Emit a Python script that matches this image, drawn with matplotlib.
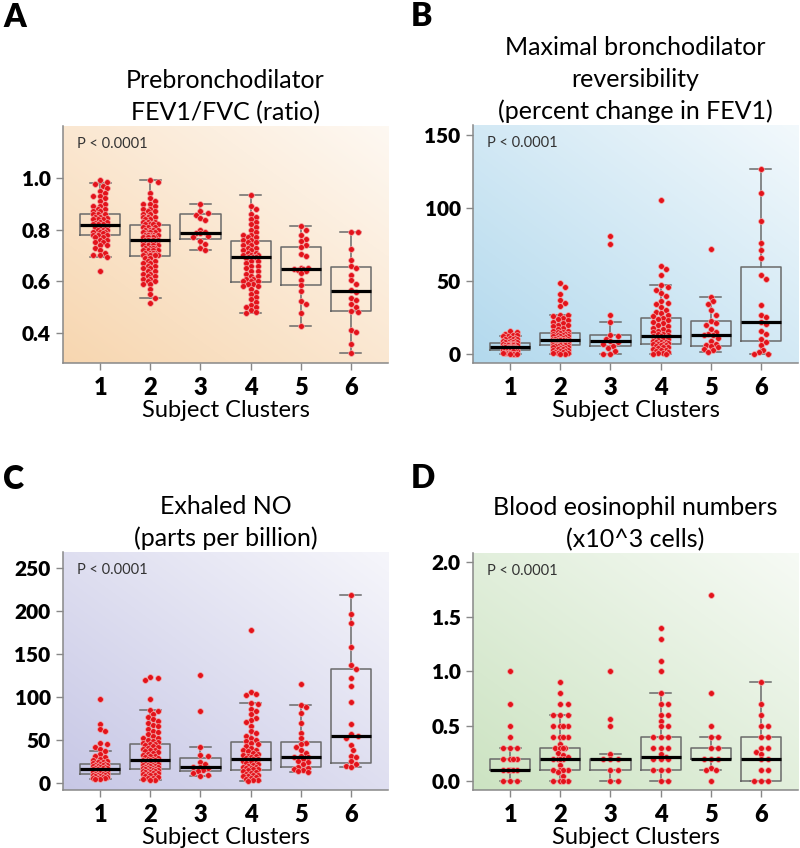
import numpy as np
import matplotlib
matplotlib.use('Agg')
import matplotlib.pyplot as plt

plt.rcParams['font.family'] = ['Lato', 'DejaVu Sans']

clusters = [1, 2, 3, 4, 5, 6]

# ---- A: prebronchodilator FEV1/FVC ----
fev_c1 = [0.99, 0.985, 0.975, 0.97, 0.96, 0.95, 0.94, 0.93, 0.93, 0.92, 0.91, 0.90, 0.89, 0.89,
          0.88, 0.88, 0.87, 0.87, 0.86, 0.86, 0.86, 0.85, 0.85, 0.845, 0.84, 0.84, 0.84, 0.83,
          0.83, 0.825, 0.82, 0.82, 0.82, 0.815, 0.81, 0.81, 0.81, 0.80, 0.80, 0.80, 0.79, 0.79,
          0.79, 0.785, 0.78, 0.78, 0.78, 0.77, 0.77, 0.76, 0.76, 0.75, 0.75, 0.74, 0.74, 0.73,
          0.72, 0.71, 0.70, 0.70, 0.695, 0.64]
fev_c2 = [0.99, 0.985, 0.94, 0.92, 0.91, 0.90, 0.90, 0.89, 0.88, 0.88, 0.87, 0.87, 0.86, 0.86,
          0.85, 0.85, 0.85, 0.84, 0.84, 0.83, 0.83, 0.83, 0.82, 0.82, 0.82, 0.82,
          0.81, 0.81, 0.81, 0.80, 0.80, 0.80, 0.80, 0.79, 0.79, 0.79, 0.79, 0.78, 0.78, 0.78,
          0.78, 0.78, 0.77, 0.77, 0.77, 0.77, 0.77, 0.76, 0.76, 0.76, 0.76, 0.76,
          0.75, 0.75, 0.75, 0.75, 0.74, 0.74, 0.74, 0.74, 0.73, 0.73, 0.73, 0.73, 0.72, 0.72,
          0.72, 0.72, 0.71, 0.71, 0.71, 0.71, 0.70, 0.70, 0.70, 0.70, 0.70, 0.70,
          0.69, 0.69, 0.68, 0.68, 0.67, 0.67, 0.66, 0.66, 0.65, 0.65, 0.64, 0.64, 0.63, 0.63,
          0.62, 0.62, 0.61, 0.61, 0.60, 0.60, 0.59, 0.59, 0.57, 0.55, 0.537, 0.515]
fev_c3 = [0.899, 0.87, 0.865, 0.855, 0.845, 0.835, 0.80, 0.79, 0.788, 0.785, 0.775, 0.77,
          0.755, 0.745, 0.73, 0.72]
fev_c4 = [0.933, 0.89, 0.88, 0.86, 0.85, 0.84, 0.83, 0.82, 0.81, 0.80, 0.79, 0.78, 0.78, 0.77,
          0.77, 0.76, 0.76, 0.75, 0.75, 0.74, 0.74, 0.73, 0.73, 0.72, 0.72, 0.71, 0.71, 0.70,
          0.70, 0.70, 0.695, 0.695, 0.694, 0.69, 0.68, 0.68, 0.67, 0.66, 0.66, 0.65, 0.64, 0.64,
          0.63, 0.62, 0.62, 0.61, 0.61, 0.60, 0.60, 0.60, 0.59, 0.59, 0.58, 0.58, 0.57, 0.56,
          0.55, 0.54, 0.53, 0.52, 0.51, 0.50, 0.50, 0.49, 0.48, 0.477]
fev_c5 = [0.815, 0.80, 0.78, 0.764, 0.757, 0.741, 0.733, 0.707, 0.696, 0.653, 0.65, 0.648,
          0.648, 0.645, 0.64, 0.632, 0.606, 0.586, 0.563, 0.522, 0.513, 0.479, 0.429]
fev_c6 = [0.792, 0.79, 0.725, 0.681, 0.66, 0.651, 0.625, 0.603, 0.59, 0.567, 0.56, 0.537,
          0.528, 0.513, 0.502, 0.487, 0.483, 0.412, 0.402, 0.357, 0.322]
fev_whislo = [0.695, 0.537, 0.72, 0.477, 0.429, 0.322]
fev_q1 = [0.779, 0.696, 0.765, 0.597, 0.585, 0.486]
fev_med = [0.816, 0.761, 0.788, 0.694, 0.648, 0.562]
fev_q3 = [0.86, 0.818, 0.859, 0.754, 0.733, 0.656]
fev_whishi = [0.978, 0.99, 0.899, 0.933, 0.815, 0.792]

# ---- B: bronchodilator reversibility (% change FEV1) ----
rev_c1 = [16, 15, 14, 13, 13, 12, 12, 11, 11, 10, 10, 10, 9, 9, 9, 8, 8, 8, 8, 7, 7, 7, 7, 7,
          6, 6, 6, 6, 6, 5, 5, 5, 5, 5, 5, 4, 4, 4, 4, 4, 3, 3, 3, 3, 3, 2, 2, 2, 2, 1, 1, 1, 1,
          0, 0, 0, 0]
rev_c2 = [49, 46, 41, 37, 35, 33, 27, 27, 26, 25, 24, 23, 22, 21, 20, 20, 19, 18, 17, 16, 16,
          15, 15, 14.5, 14, 14, 13.5, 13, 13, 12.5, 12, 12, 11.5, 11, 11, 10.5, 10, 10, 10, 9.8,
          9.6, 9.5, 9.4, 9, 9, 8.8, 8.5, 8.2, 8, 8, 7.8, 7.5, 7.2, 7, 7, 6.8, 6.5, 6.3, 6.2, 6,
          6, 5.9, 5.9, 5.5, 5.2, 5, 5, 4.6, 4.2, 4, 3.6, 3.2, 3, 2.6, 2.2, 2, 1.6, 1.2, 1, 0.6,
          0.4, 0, 0]
rev_c3 = [81, 75.3, 26.7, 22, 13, 12, 10, 8.6, 8, 7, 5.5, 4, 2, 0, 0]
rev_c4 = [105.7, 60.5, 58, 54, 47, 46, 44, 42, 40, 36, 35, 34, 32, 30, 29, 28, 27, 26, 25, 24,
          23, 22, 21, 20, 19, 18, 17, 16, 16, 15, 14, 13.5, 13, 12.5, 12, 11.5, 11, 10.5, 10,
          9.5, 9, 8.5, 8, 8, 7.5, 7, 7, 6.8, 6.5, 6, 5.5, 5, 4.5, 4, 3.5, 3, 2.5, 2, 1.5, 1,
          0.5, 0, 0]
rev_c5 = [72.3, 39.2, 36, 34, 30, 27, 22.3, 21, 20, 17, 15, 13.5, 13.2, 13, 11, 9, 7, 6, 5.2,
          4.5, 3.5, 2.5, 1.6]
rev_c6 = [127, 110.3, 91.3, 75.8, 71.2, 65.5, 54, 51.4, 33.8, 26.8, 25.5, 22.1, 20.5, 16, 14,
          10.3, 8, 6.4, 3, 1.5, 0, 0]
rev_whislo = [0, 0, 0, 0, 1.6, 0]
rev_q1 = [2.7, 5.9, 5.5, 6.8, 5.2, 9.1]
rev_med = [4.8, 9.3, 8.6, 12.5, 13.2, 22.1]
rev_q3 = [7.3, 14.6, 13, 24.6, 22.3, 59.8]
rev_whishi = [12.3, 26.9, 22.1, 47.2, 39.2, 127]

# ---- C: exhaled NO (ppb) ----
no_c1 = [98, 69, 63, 60, 47, 45.4, 42, 40, 36.8, 34, 32, 30, 28, 27, 26, 25, 24, 23, 22.5, 22,
         21.5, 21, 20.5, 20, 19.5, 19, 18.5, 18, 17.5, 17, 16.5, 16, 15.5, 15, 14.5, 14, 13.5,
         13, 12.5, 12, 11.5, 11, 10.5, 10.2, 10, 9.5, 9, 8.5, 8, 7.5, 7, 6.5, 6, 5.5, 5, 4.6]
no_c2 = [123.5, 122, 120, 98, 85.4, 84, 80, 77, 74, 72, 70, 68, 66, 63, 61, 59, 57, 55, 53, 52,
         50, 49, 48, 47, 46, 45, 44, 43, 42, 41, 40, 39, 38, 37, 36, 35, 34, 33, 32, 31, 30, 29,
         28, 27.5, 27, 26.8, 26.5, 26, 25.5, 25, 24.5, 24, 23.5, 23, 22.5, 22, 21.5, 21, 20.5,
         20, 19.5, 19, 18.5, 18, 17.5, 17, 16.8, 16.5, 16, 15.5, 15, 14.5, 14, 13.5, 13, 12.5,
         12, 11.5, 11, 10.5, 10, 9, 8, 7, 6, 5.5, 5, 4, 3.5]
no_c3 = [125.4, 83.5, 41.5, 33, 32, 25, 22, 19, 18.2, 17, 15, 14, 12, 10, 8.5]
no_c4 = [177.5, 106, 104, 102, 93.2, 92, 86, 84, 80, 76, 73, 71, 66, 60, 58, 55, 52, 50, 49,
         47, 45, 43, 41, 39, 38, 37, 35, 34, 33, 32, 31, 30, 29, 28.5, 27.5, 27, 26, 25, 24,
         23, 22, 21, 20, 19, 18.5, 18, 17, 16.5, 16, 15, 14, 13, 12, 11, 10, 9, 8.5, 8, 7, 6,
         5, 4, 3.5, 3]
no_c5 = [115.3, 91, 88, 82, 70, 58, 52, 47, 45, 42, 38, 35, 32, 30.6, 30, 28, 26, 24, 22, 19,
         17, 16, 15, 14, 12.4]
no_c6 = [218.7, 197, 185.7, 157.7, 137, 133, 121.6, 113.4, 94.4, 69, 57, 55.1, 52.8, 44, 38.4,
         32, 30, 25.2, 22, 20, 18.2]
no_whislo = [4.6, 3.5, 8.5, 3, 12.4, 18.2]
no_q1 = [10.1, 16.3, 14, 15.5, 18.6, 23.7]
no_med = [15.9, 26.4, 18.2, 28, 30.6, 55.1]
no_q3 = [21.7, 45.8, 28.7, 48.1, 48.1, 132.8]
no_whishi = [36.8, 85.4, 41.5, 93.2, 91, 218.7]

# ---- D: blood eosinophils (x10^3 cells) ----
eos_c1 = [1.0, 0.7, 0.5, 0.4, 0.3, 0.3, 0.3, 0.2, 0.2, 0.2, 0.2, 0.1, 0.1, 0.1, 0.1, 0.1,
          0.0, 0.0, 0.0]
eos_c2 = [0.9, 0.8, 0.7, 0.7, 0.6, 0.6, 0.6, 0.5, 0.5, 0.5, 0.5, 0.4, 0.4, 0.4, 0.4, 0.34,
          0.3, 0.3, 0.3, 0.3, 0.26, 0.24, 0.22, 0.2, 0.2, 0.2, 0.2, 0.15, 0.1, 0.1, 0.1, 0.1,
          0.08, 0.05, 0.0, 0.0, 0.0, 0.0]
eos_c3 = [1.0, 0.57, 0.5, 0.25, 0.2, 0.2, 0.2, 0.1, 0.1, 0.0, 0.0]
eos_c4 = [1.4, 1.3, 1.1, 1.0, 0.8, 0.7, 0.7, 0.6, 0.6, 0.55, 0.5, 0.5, 0.4, 0.4, 0.4, 0.3,
          0.3, 0.3, 0.25, 0.22, 0.2, 0.2, 0.2, 0.1, 0.1, 0.1, 0.0, 0.0]
eos_c5 = [1.7, 0.8, 0.5, 0.4, 0.4, 0.3, 0.3, 0.2, 0.2, 0.2, 0.12, 0.1, 0.1, 0.0]
eos_c6 = [0.9, 0.7, 0.6, 0.5, 0.5, 0.4, 0.4, 0.3, 0.3, 0.27, 0.25, 0.2, 0.2, 0.1, 0.1, 0.0,
          0.0, 0.0]
eos_whislo = [0, 0, 0, 0, 0.1, 0]
eos_q1 = [0.1, 0.1, 0.1, 0.1, 0.2, 0.0]
eos_med = [0.1, 0.2, 0.2, 0.22, 0.2, 0.2]
eos_q3 = [0.2, 0.3, 0.2, 0.4, 0.3, 0.4]
eos_whishi = [0.3, 0.6, 0.25, 0.8, 0.4, 0.9]

panels = [
    dict(letter='A', title='Prebronchodilator\nFEV1/FVC (ratio)',
         points=[fev_c1, fev_c2, fev_c3, fev_c4, fev_c5, fev_c6],
         stats=(fev_whislo, fev_q1, fev_med, fev_q3, fev_whishi),
         ylim=(0.284, 1.2), yticks=[0.4, 0.6, 0.8, 1.0], fmt='{:.1f}',
         color=(0.97, 0.84, 0.69), rect=[0.0788, 0.5719, 0.4063, 0.2795]),
    dict(letter='B', title='Maximal bronchodilator\nreversibility\n(percent change in FEV1)',
         points=[rev_c1, rev_c2, rev_c3, rev_c4, rev_c5, rev_c6],
         stats=(rev_whislo, rev_q1, rev_med, rev_q3, rev_whishi),
         ylim=(-6.2, 157), yticks=[0, 50, 100, 150], fmt='{:.0f}',
         color=(0.70, 0.85, 0.93), rect=[0.5913, 0.5719, 0.4063, 0.2807]),
    dict(letter='C', title='Exhaled NO\n(parts per billion)',
         points=[no_c1, no_c2, no_c3, no_c4, no_c5, no_c6],
         stats=(no_whislo, no_q1, no_med, no_q3, no_whishi),
         ylim=(-8, 268.6), yticks=[0, 50, 100, 150, 200, 250], fmt='{:.0f}',
         color=(0.78, 0.78, 0.90), rect=[0.0788, 0.0684, 0.4063, 0.2807]),
    dict(letter='D', title='Blood eosinophil numbers\n(x10^3 cells)',
         points=[eos_c1, eos_c2, eos_c3, eos_c4, eos_c5, eos_c6],
         stats=(eos_whislo, eos_q1, eos_med, eos_q3, eos_whishi),
         ylim=(-0.08, 2.08), yticks=[0.0, 0.5, 1.0, 1.5, 2.0], fmt='{:.1f}',
         color=(0.80, 0.89, 0.76), rect=[0.5913, 0.0684, 0.4063, 0.2795]),
]
letter_pos = {'A': (0.004, 0.997), 'B': (0.514, 0.998), 'C': (0.004, 0.452), 'D': (0.513, 0.453)}

FIG_W, FIG_H = 800, 848
XLIM = (0.26, 6.74)


def swarm_offsets(vals, px_x, px_y, r=2.7, cap=0.15):
    # spread equal / close values sideways, overlap allowed once the strip is full
    vals = np.asarray(vals, dtype=float)
    step = r * 0.9 / px_x
    cands = [0.0]
    k = 1
    while k * step <= cap:
        cands += [k * step, -k * step]
        k += 1
    offs = np.zeros(len(vals))
    placed = []
    for i in np.argsort(-vals, kind='stable'):
        y = vals[i] * px_y
        best, best_d = 0.0, -1.0
        for c in cands:
            x = c * px_x
            near = [np.hypot(x - a, y - b) for a, b in placed if abs(y - b) < 2 * r]
            d = min(near) if near else 99.0
            if d >= 2 * r * 0.95:
                best = c
                break
            if d > best_d:
                best, best_d = c, d
        offs[i] = best
        placed.append((best * px_x, y))
    return offs


fig = plt.figure(figsize=(FIG_W / 100, FIG_H / 100), dpi=100)

for p in panels:
    ax = fig.add_axes(p['rect'])
    # diagonal gradient background, strongest in the lower left corner
    n = 200
    xx, yy = np.meshgrid(np.linspace(0, 1, n), np.linspace(0, 1, n))
    w = np.clip(1.0 - 0.42 * xx - 0.42 * yy, 0.05, 1)
    base = np.array(p['color'])
    img = 1 - w[..., None] * (1 - base)
    ax.imshow(img, extent=[0, 1, 0, 1], transform=ax.transAxes, origin='lower',
              aspect='auto', zorder=0, interpolation='bilinear')

    ax.set_xlim(*XLIM)
    ax.set_ylim(*p['ylim'])
    px_x = p['rect'][2] * FIG_W / (XLIM[1] - XLIM[0])
    px_y = p['rect'][3] * FIG_H / (p['ylim'][1] - p['ylim'][0])

    whislo, q1, med, q3, whishi = p['stats']
    bstats = [dict(whislo=whislo[i], q1=q1[i], med=med[i], q3=q3[i], whishi=whishi[i], fliers=[])
              for i in range(len(clusters))]
    parts = ax.bxp(bstats, positions=clusters, widths=0.8, capwidths=0.42, showfliers=False,
                   boxprops=dict(color='#6a6a6a', lw=1.1),
                   whiskerprops=dict(color='#6a6a6a', lw=1.1),
                   capprops=dict(color='#6a6a6a', lw=1.1),
                   medianprops=dict(color='black', lw=2.3), zorder=2)
    for m in parts['medians']:
        m.set_zorder(4)

    for c, vals in zip(clusters, p['points']):
        offs = swarm_offsets(vals, px_x, px_y)
        ax.scatter(c + offs, vals, s=17, color='#e3131b', edgecolor='#f4a3a3',
                   linewidth=0.5, zorder=3)

    ax.set_xticks(clusters)
    ax.set_xticklabels([str(c) for c in clusters], fontsize=17, fontweight='heavy')
    ax.set_yticks(p['yticks'])
    ax.set_yticklabels([p['fmt'].format(t) for t in p['yticks']], fontsize=15,
                       fontweight='heavy')
    ax.tick_params(axis='both', color='#888888', length=5, width=1, pad=4)
    ax.tick_params(axis='x', pad=5)
    for s in ['top', 'right']:
        ax.spines[s].set_visible(False)
    for s in ['left', 'bottom']:
        ax.spines[s].set_color('#888888')
        ax.spines[s].set_linewidth(1.1)

    ax.set_xlabel('Subject Clusters', fontsize=17, labelpad=1)
    ax.set_title(p['title'], fontsize=18, linespacing=1.45, pad=4)
    ax.text(0.043, 0.925, 'P < 0.0001', transform=ax.transAxes, fontsize=10.5,
            color='#333333', va='center', ha='left')

    lx, ly = letter_pos[p['letter']]
    fig.text(lx, ly, p['letter'], fontsize=23, fontweight='heavy', va='top', ha='left')

fig.savefig('out.png', dpi=100)
